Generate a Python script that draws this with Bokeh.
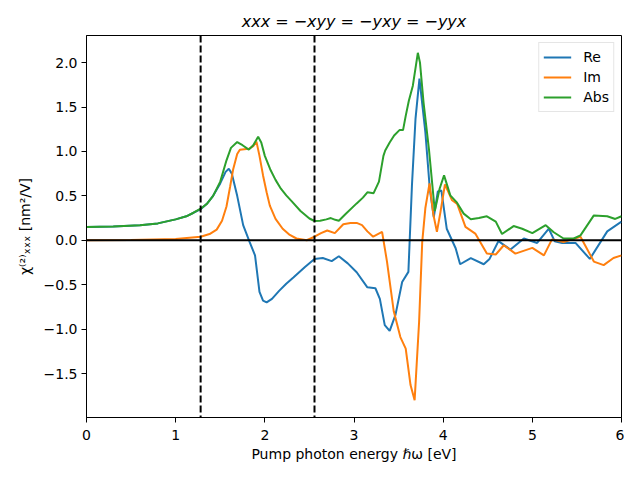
from bokeh.plotting import figure
from bokeh.models import Range1d, FixedTicker, Span, Legend, LegendItem, CustomJSTickFormatter
from bokeh.embed import file_html
from bokeh.resources import INLINE

# ---- data ----
re_energy = [0.0, 0.3, 0.6, 0.8, 1.0, 1.12, 1.2, 1.28, 1.35, 1.42, 1.5, 1.56, 1.596, 1.63, 1.69,
             1.757, 1.83, 1.89, 1.94, 1.98, 2.02, 2.08, 2.16, 2.24, 2.32, 2.45, 2.557, 2.65, 2.75,
             2.83, 2.93, 3.03, 3.15, 3.24, 3.29, 3.345, 3.40, 3.465, 3.54, 3.61, 3.65, 3.69, 3.734,
             3.80, 3.85, 3.895, 3.94, 3.98, 4.04, 4.14, 4.19, 4.31, 4.455, 4.52, 4.62, 4.755, 4.905,
             5.054, 5.185, 5.25, 5.335, 5.484, 5.645, 5.84, 6.0]
re_values = [0.15, 0.155, 0.17, 0.19, 0.235, 0.27, 0.31, 0.35, 0.41, 0.5, 0.64, 0.77, 0.805, 0.75, 0.5,
             0.17, -0.02, -0.17, -0.58, -0.68, -0.70, -0.66, -0.57, -0.49, -0.42, -0.3, -0.21, -0.2, -0.235,
             -0.18, -0.26, -0.36, -0.53, -0.54, -0.66, -0.955, -1.02, -0.84, -0.47, -0.356, 0.62, 1.37, 1.82,
             1.22, 0.58, 0.26, 0.55, 0.56, 0.13, -0.09, -0.27, -0.2, -0.27, -0.21, -0.01, -0.105, 0.02,
             -0.03, 0.13, -0.01, -0.03, -0.03, -0.21, 0.1, 0.21]

im_energy = [0.0, 0.5, 1.0, 1.28, 1.38, 1.46, 1.52, 1.57, 1.61, 1.645, 1.69, 1.72, 1.82, 1.87, 1.906,
             1.94, 1.98, 2.02, 2.056, 2.12, 2.2, 2.28, 2.355, 2.47, 2.557, 2.63, 2.70, 2.785, 2.88,
             2.96, 3.03, 3.09, 3.15, 3.215, 3.315, 3.37, 3.446, 3.52, 3.58, 3.634, 3.68, 3.73, 3.765,
             3.80, 3.847, 3.89, 3.93, 3.97, 4.02, 4.10, 4.157, 4.25, 4.36, 4.49, 4.59, 4.68, 4.81,
             5.0, 5.13, 5.22, 5.35, 5.54, 5.69, 5.80, 5.91, 6.0]
im_values = [0.0, 0.003, 0.015, 0.04, 0.07, 0.12, 0.22, 0.38, 0.6, 0.8, 0.97, 1.02, 1.03, 1.06, 1.11,
             0.95, 0.73, 0.54, 0.39, 0.24, 0.13, 0.06, 0.02, 0.0, 0.04, 0.08, 0.11, 0.08, 0.18,
             0.195, 0.195, 0.17, 0.1, 0.04, 0.094, -0.24, -0.8, -1.09, -1.22, -1.63, -1.80, -0.92, -0.02,
             0.36, 0.64, 0.29, 0.094, 0.32, 0.63, 0.45, 0.41, 0.15, 0.075, -0.15, -0.16, -0.056, -0.15,
             -0.086, -0.17, 0.01, -0.02, 0.04, -0.24, -0.28, -0.2, -0.17]

abs_energy = [0.0, 0.3, 0.6, 0.8, 1.0, 1.12, 1.2, 1.28, 1.35, 1.42, 1.5, 1.57, 1.62, 1.69, 1.75,
              1.82, 1.87, 1.925, 1.96, 2.0, 2.06, 2.12, 2.18, 2.24, 2.3, 2.4, 2.5, 2.557, 2.62,
              2.69, 2.74, 2.79, 2.83, 2.9, 3.03, 3.1, 3.15, 3.22, 3.28, 3.33, 3.35, 3.4, 3.45,
              3.51, 3.55, 3.58, 3.615, 3.66, 3.716, 3.74, 3.78, 3.84, 3.906, 3.96, 4.01, 4.08,
              4.15, 4.23, 4.31, 4.4, 4.49, 4.59, 4.66, 4.79, 4.886, 5.0, 5.15, 5.24, 5.35,
              5.465, 5.54, 5.69, 5.84, 5.93, 6.0]
abs_values = [0.15, 0.155, 0.17, 0.19, 0.235, 0.27, 0.31, 0.355, 0.41, 0.5, 0.66, 0.9, 1.04, 1.105, 1.07,
              1.02, 1.07, 1.165, 1.1, 0.95, 0.8, 0.68, 0.58, 0.505, 0.44, 0.33, 0.245, 0.217, 0.22,
              0.235, 0.25, 0.23, 0.22, 0.29, 0.415, 0.48, 0.54, 0.53, 0.66, 0.95, 1.01, 1.1, 1.18,
              1.24, 1.24, 1.4, 1.57, 1.74, 2.11, 2.0, 1.55, 1.03, 0.33, 0.58, 0.73, 0.505,
              0.43, 0.30, 0.236, 0.25, 0.27, 0.21, 0.07, 0.16, 0.13, 0.08, 0.17, 0.09, 0.02,
              0.02, 0.055, 0.28, 0.27, 0.24, 0.27]

vline_energies = [1.28, 2.557]
x_ticks = [0, 1, 2, 3, 4, 5, 6]
y_ticks = [-1.5, -1.0, -0.5, 0.0, 0.5, 1.0, 1.5, 2.0]

FONT = "DejaVu Sans"

p = figure(width=624, height=464, output_backend="svg", toolbar_location=None,
           x_range=Range1d(0, 6), y_range=Range1d(-1.995, 2.305),
           min_border_left=86, min_border_right=3, min_border_top=35, min_border_bottom=46)
p.background_fill_color = "white"
p.border_fill_color = "white"
p.outline_line_color = "black"
p.outline_line_width = 1
p.xgrid.visible = False
p.ygrid.visible = False

p.title.text = "xxx = \u2212xyy = \u2212yxy = \u2212yyx"
p.title.text_font = FONT
p.title.text_font_style = "italic"
p.title.text_font_size = "16px"
p.title.align = "center"
p.title.text_color = "black"
p.title.standoff = 9

for ax in (p.xaxis[0], p.yaxis[0]):
    ax.axis_line_color = "black"
    ax.major_tick_line_color = "black"
    ax.major_tick_out = 5
    ax.major_tick_in = 0
    ax.minor_tick_line_color = None
    ax.major_label_text_font = FONT
    ax.major_label_text_font_size = "14px"
    ax.major_label_text_color = "black"
    ax.axis_label_text_font = FONT
    ax.axis_label_text_font_size = "14px"
    ax.axis_label_text_font_style = "normal"
    ax.axis_label_text_color = "black"

p.xaxis.ticker = FixedTicker(ticks=x_ticks)
p.yaxis.ticker = FixedTicker(ticks=y_ticks)
p.xaxis.formatter = CustomJSTickFormatter(code="return (tick < 0 ? '\u2212' : '') + Math.abs(tick).toFixed(0);")
p.yaxis.formatter = CustomJSTickFormatter(code="return (tick < 0 ? '\u2212' : '') + Math.abs(tick).toFixed(1);")
p.xaxis.axis_label = "Pump photon energy \u210f\u03c9 [eV]"
p.yaxis.axis_label = "\u03c7\u207d\u00b2\u207e\u2093\u2093\u2093 [nm\u00b2/V]"
p.xaxis.major_label_standoff = 7
p.yaxis.major_label_standoff = 4
p.xaxis.axis_label_standoff = 3
p.yaxis.axis_label_standoff = 8

r_re = p.line(re_energy, re_values, line_color="#1f77b4", line_width=2)
r_im = p.line(im_energy, im_values, line_color="#ff7f0e", line_width=2)
r_abs = p.line(abs_energy, abs_values, line_color="#2ca02c", line_width=2)

p.add_layout(Span(location=0, dimension="width", line_color="black", line_width=2))
for e in vline_energies:
    p.add_layout(Span(location=e, dimension="height", line_color="black", line_width=2, line_dash="7 3"))

legend = Legend(items=[LegendItem(label="Re", renderers=[r_re]),
                       LegendItem(label="Im", renderers=[r_im]),
                       LegendItem(label="Abs", renderers=[r_abs])],
                location="top_right")
legend.label_text_font = FONT
legend.label_text_font_size = "14px"
legend.label_text_color = "black"
legend.border_line_color = "#cccccc"
legend.border_line_width = 1
legend.background_fill_alpha = 0.8
legend.glyph_width = 28
legend.glyph_height = 20
legend.label_height = 20
legend.label_standoff = 12
legend.spacing = 0
legend.padding = 4
legend.margin = 7
p.add_layout(legend)

open("out.html", "w").write(file_html(p, INLINE))
